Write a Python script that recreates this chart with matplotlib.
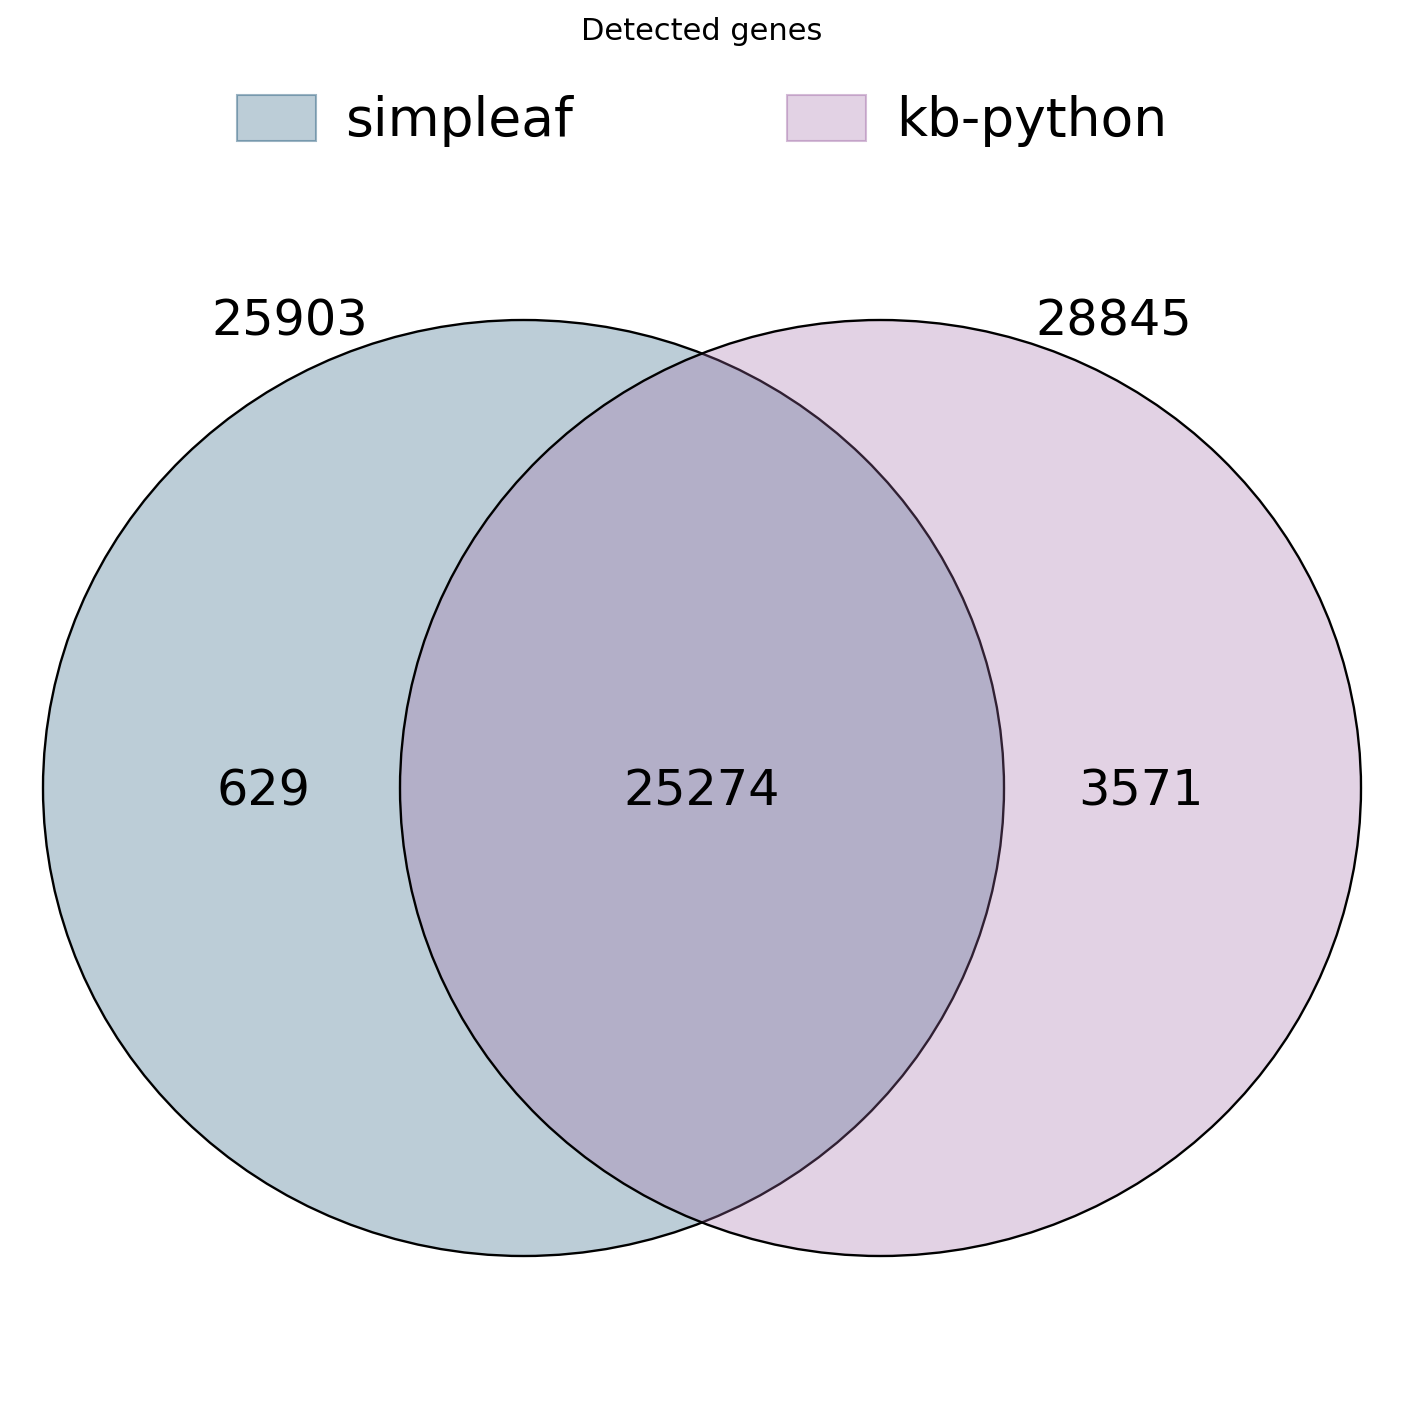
import matplotlib
matplotlib.use("Agg")
import matplotlib.pyplot as plt
from matplotlib.patches import Ellipse, Patch

# data
set_names = ["simpleaf", "kb-python"]
set_totals = [25903, 28845]
only_left = 629
shared = 25274
only_right = 3571

base_colors = [(36 / 255, 90 / 255, 123 / 255), (161 / 255, 107 / 255, 168 / 255)]
alpha = 0.30

W, H = 1404, 1406
fig = plt.figure(figsize=(W / 100, H / 100), dpi=100)
ax = fig.add_axes([0, 0, 1, 1])
ax.set_xlim(0, W)
ax.set_ylim(H, 0)
ax.axis("off")

# two fixed-geometry ellipses (pixel units)
centers = [(523.5, 788), (880.5, 788)]
ew, eh = 961, 936
for c, col in zip(centers, base_colors):
    ax.add_patch(Ellipse(c, ew, eh, facecolor=col, alpha=alpha, edgecolor="none"))
    ax.add_patch(Ellipse(c, ew, eh, facecolor="none", edgecolor="black", lw=1.7))

num_fs = 35.5
ax.text(290, 321, str(set_totals[0]), fontsize=num_fs, ha="center", va="center")
ax.text(1114, 321, str(set_totals[1]), fontsize=num_fs, ha="center", va="center")
ax.text(263, 791, str(only_left), fontsize=num_fs, ha="center", va="center")
ax.text(702, 791, str(shared), fontsize=num_fs, ha="center", va="center")
ax.text(1141, 791, str(only_right), fontsize=num_fs, ha="center", va="center")

fig.text(0.5, 1 - 31 / H, "Detected genes", fontsize=22, ha="center", va="center")

handles = [Patch(facecolor=(*c, alpha), edgecolor=(*c, 0.45), lw=1.5) for c in base_colors]
fig.legend(handles, set_names, loc="center", bbox_to_anchor=(0.5, 1 - 121 / H),
           ncol=2, frameon=False, fontsize=38.5, handlelength=1.48, handleheight=0.95,
           handletextpad=0.55, columnspacing=4.0)

fig.savefig("out.png", dpi=100)
